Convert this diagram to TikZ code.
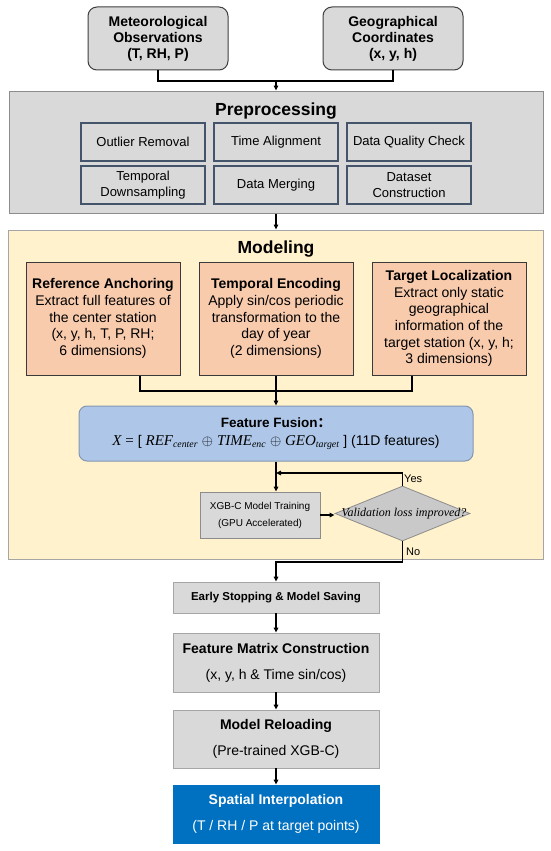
\documentclass[tikz,border=0pt]{standalone}
\usepackage{fontspec}
\setmainfont{Liberation Sans}
\newfontfamily\cjk{Noto Sans CJK SC}
\newfontfamily\serifit{Liberation Serif}
\usetikzlibrary{shapes.geometric,arrows.meta}
\definecolor{boxgray}{HTML}{D9D9D9}
\definecolor{topedge}{HTML}{3F3F3F}
\definecolor{preedge}{HTML}{8C8C8C}
\definecolor{slate}{HTML}{44546A}
\definecolor{modfill}{HTML}{FFF2CC}
\definecolor{modedge}{HTML}{A5A5A5}
\definecolor{salmon}{HTML}{F8CBAD}
\definecolor{darkedge}{HTML}{3A3A3A}
\definecolor{fusfill}{HTML}{AEC7E8}
\definecolor{fusedge}{HTML}{8497B0}
\definecolor{diafill}{HTML}{C9C9C9}
\definecolor{stageedge}{HTML}{A6A6A6}
\definecolor{spiblue}{HTML}{0070C0}
\newcommand{\mvar}[2]{{\serifit\itshape\fontsize{15}{18}\selectfont #1}\textsubscript{\serifit\itshape #2}}
\begin{document}
\begin{tikzpicture}[x=1pt,y=-1pt,
  topbox/.style={draw=topedge, fill=boxgray, rounded corners=9pt, line width=1pt,
    minimum width=140pt, minimum height=63pt, inner sep=0pt, align=center,
    font=\bfseries\fontsize{14}{16}\selectfont},
  container/.style={line width=1pt, inner sep=0pt},
  ttl/.style={font=\bfseries\fontsize{17.5}{20}\selectfont, inner sep=0pt},
  prebox/.style={draw=slate, fill=boxgray, line width=1.2pt, minimum width=124pt,
    minimum height=38pt, inner sep=0pt, align=center, font=\fontsize{13}{16}\selectfont},
  orange/.style={draw=darkedge, fill=salmon, line width=1pt, minimum width=154pt,
    minimum height=113pt, inner sep=0pt, align=center,
    font=\fontsize{14}{16.6}\selectfont},
  fusion/.style={draw=fusedge, fill=fusfill, rounded corners=8pt, line width=1pt,
    minimum width=394pt, minimum height=55pt, inner sep=0pt, align=center,
    font=\fontsize{14}{18}\selectfont},
  xgbbox/.style={draw=preedge, fill=boxgray, line width=0.8pt, minimum width=120pt,
    minimum height=46pt, inner sep=0pt, align=center, font=\fontsize{10}{17}\selectfont},
  dia/.style={diamond, draw=preedge, fill=diafill, line width=0.8pt, minimum width=135pt,
    minimum height=55pt, inner sep=0pt},
  stage/.style={draw=stageedge, fill=boxgray, line width=0.8pt, minimum width=206pt,
    inner sep=0pt, align=center, font=\fontsize{14}{26}\selectfont},
  lbl/.style={font=\fontsize{11}{13}\selectfont, inner sep=0pt},
  conn/.style={line width=1.3pt, draw=black},
  arr/.style={conn, -{Triangle[length=5pt,width=4.5pt]}}
]
\path[use as bounding box, fill=white] (0,0) rectangle (550,851);

% containers
\node[container, draw=preedge, fill=boxgray, minimum width=534pt, minimum height=122pt] (pre) at (276,152) {};
\node[container, draw=modedge, fill=modfill, minimum width=535pt, minimum height=329pt] (mod) at (276,394.5) {};

% top inputs
\node[topbox] (met) at (158,38.5) {Meteorological\\Observations\\(T, RH, P)};
\node[topbox] (geo) at (393,38.5) {Geographical\\Coordinates\\(x, y, h)};

% preprocessing
\node[ttl] (pret) at (276,111) {Preprocessing};
\node[prebox] (p1) at (143,142) {Outlier Removal};
\node[prebox] (p2) at (276,142) {Time Alignment};
\node[prebox] (p3) at (409,142) {Data Quality Check};
\node[prebox] (p4) at (143,185) {Temporal\\Downsampling};
\node[prebox] (p5) at (276,185) {Data Merging};
\node[prebox] (p6) at (409,185) {Dataset\\Construction};

% modeling
\node[ttl] (modt) at (276,249) {Modeling};
\node[orange] (ref) at (103,318.5) {{\bfseries Reference Anchoring}\\Extract full features of\\the center station\\(x, y, h, T, P, RH;\\6 dimensions)};
\node[orange] (te) at (276,318.5) {{\bfseries Temporal Encoding}\\Apply sin/cos periodic\\transformation to the\\day of year\\(2 dimensions)};
\node[orange] (tl) at (449,318.5) {{\bfseries Target Localization}\\Extract only static\\geographical\\information of the\\target station (x, y, h;\\3 dimensions)};

\node[fusion] (fus) at (276,433.5) {{\bfseries\fontsize{13.5}{18}\selectfont Feature Fusion{\cjk ：}}\\{\serifit\itshape\fontsize{15}{18}\selectfont X}\;{\serifit\fontsize{15}{18}\selectfont =}\;[\;\mvar{REF}{center}\;$\oplus$\;\mvar{TIME}{enc}\;$\oplus$\;\mvar{GEO}{target}\;] (11D features)};

\node[xgbbox] (xgb) at (260,515) {XGB-C Model Training\\(GPU Accelerated)};
\node[dia] (dia) at (402.5,513.5) {};
\node[font=\serifit\itshape\fontsize{12}{14}\selectfont, inner sep=0pt] (dialbl) at (404,513.5) {Validation loss improved?};
\node[lbl, anchor=west] (yes) at (404,479) {Yes};
\node[lbl, anchor=west] (no) at (406,552) {No};

% bottom stages
\node[stage, minimum height=31pt, font=\bfseries\fontsize{11.5}{14}\selectfont] (early) at (276,597.5) {Early Stopping \& Model Saving};
\node[stage, minimum height=59pt] (fmc) at (276,662.5) {{\bfseries Feature Matrix Construction}\\(x, y, h \& Time sin/cos)};
\node[stage, minimum height=58pt] (mrl) at (276,739) {{\bfseries Model Reloading}\\(Pre-trained XGB-C)};
\node[stage, minimum height=58pt, fill=spiblue, draw=spiblue, text=white] (spi) at (276,814) {{\bfseries Spatial Interpolation}\\(T / RH / P at target points)};

% connectors
\coordinate (j1) at (276,81);
\draw[conn] (met.south) |- (j1) -| (geo.south);
\draw[arr] (j1) -- (j1 |- pre.north);
\draw[arr] (pre.south) -- (mod.north);

\coordinate (j2) at (276,391);
\draw[conn] ([xshift=37pt]ref.south) |- (j2);
\draw[conn] ([xshift=-37pt]tl.south) |- (j2);
\draw[conn] (te.south) -- (j2);
\draw[arr] (j2) -- (fus.north);

\draw[arr] (fus.south) -- (fus.south |- xgb.north);
\draw[arr] (xgb.east) -- (xgb.east -| dia.west);
\coordinate (yc) at (402.5,473);
\draw[arr] (dia.north) -- (yc) -- (yc -| fus.south);
\coordinate (nc) at (402.5,562);
\draw[arr] (dia.south) -- (nc) -| (early.north);

\draw[arr] (early.south) -- (fmc.north);
\draw[arr] (fmc.south) -- (mrl.north);
\draw[arr] (mrl.south) -- (spi.north);
\end{tikzpicture}
\end{document}
